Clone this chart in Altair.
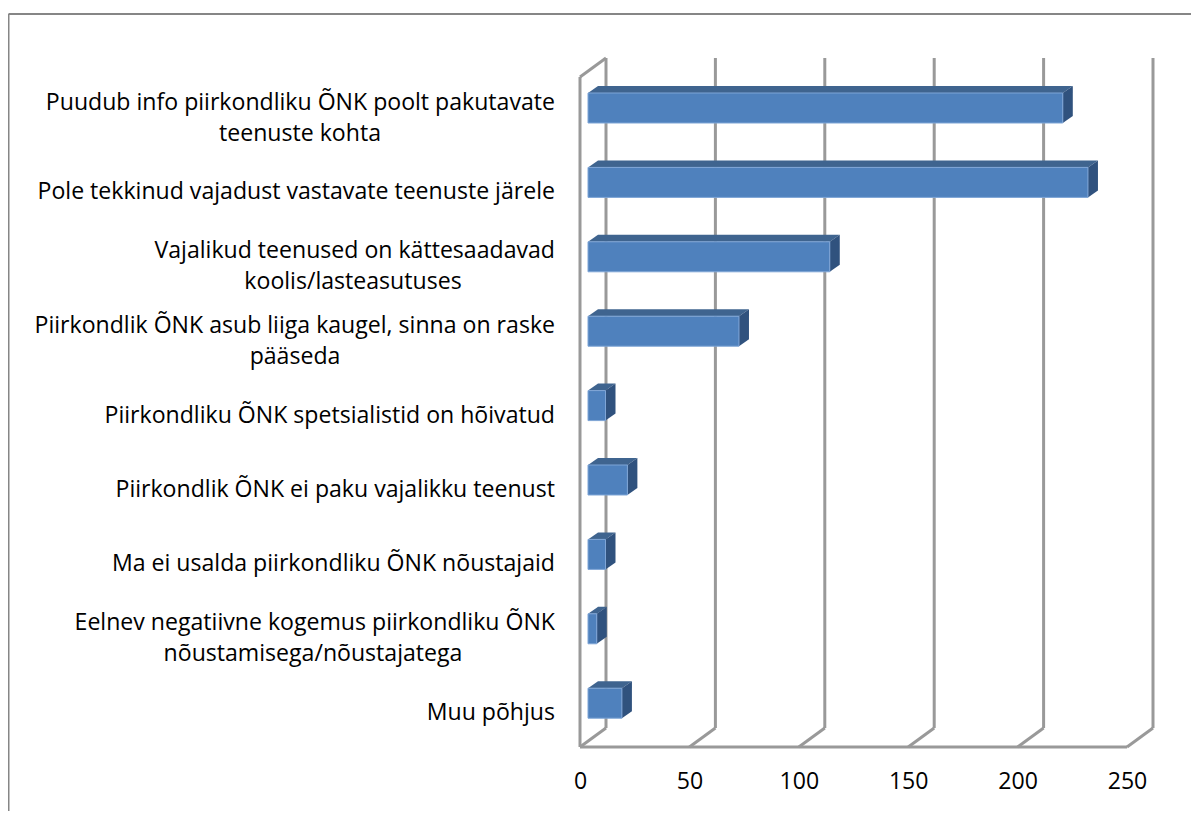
import altair as alt
import pandas as pd

first_lines = [
    "Puudub info piirkondliku ÕNK poolt pakutavate",
    "Pole tekkinud vajadust vastavate teenuste järele",
    "Vajalikud teenused on kättesaadavad",
    "Piirkondlik ÕNK asub liiga kaugel, sinna on raske",
    "Piirkondliku ÕNK spetsialistid on hõivatud",
    "Piirkondlik ÕNK ei paku vajalikku teenust",
    "Ma ei usalda piirkondliku ÕNK nõustajaid",
    "Eelnev negatiivne kogemus piirkondliku ÕNK",
    "Muu põhjus",
]
second_lines = [
    "teenuste kohta", "", "koolis/lasteasutuses", "pääseda", "", "", "",
    "nõustamisega/nõustajatega", "",
]
values = [217, 228.5, 110.5, 69, 8, 18, 8, 4, 15.5]
ticks = [0, 50, 100, 150, 200, 250]

# layout
PX_PER_UNIT = 2.188
PX_PER_ROW = 74.4
X0, Y_ROW0 = 580, 108
PLOT_TOP, PLOT_BOTTOM, PLOT_W = 58, 747, 600
TOTAL_W, TOTAL_H = 1183, 803
FONT, FS = "Open Sans", 23.1
LABEL_RIGHT = 555
SECOND_CENTRE = [300, None, 353, 295, None, None, None, 313, None]


def vx(px):
    return (px - X0) / PX_PER_UNIT


def vy(py):
    return (py - Y_ROW0) / PX_PER_ROW


xs = alt.Scale(domain=[0, PLOT_W / PX_PER_UNIT], nice=False, zero=False)
ys = alt.Scale(domain=[vy(PLOT_TOP), vy(PLOT_BOTTOM)], nice=False, zero=False, reverse=True)
x_axis = alt.Axis(
    values=ticks, grid=False, domain=False, ticks=False, labelPadding=23,
    labelFont=FONT, labelFontSize=FS, labelColor="#000000", format="d", labelFlush=False,
)
X = lambda f="x": alt.X(f"{f}:Q", scale=xs, axis=x_axis, title=None)
Y = lambda f="y": alt.Y(f"{f}:Q", scale=ys, axis=None, title=None)

# bars
start = vx(588)
dx, dy = 10 / PX_PER_UNIT, 7 / PX_PER_ROW
half = 15 / PX_PER_ROW
front, top, side = [], [], []
for i, v in enumerate(values):
    a, b = start, start + v
    y0, y1 = i - half, i + half
    front.append(dict(x=a, x2=b, y=y0, y2=y1))
    # parallelogram of the top face, as the band between its two slanted edges
    for xp in sorted({a, a + dx, b, b + dx}):
        up = min(1, (xp - a) / dx)
        lo = max(0, (xp - b) / dx)
        top.append(dict(i=i, x=xp, y=y0 - dy * up, y2=y0 - dy * lo))
    side += [dict(i=i, x=b, y=y0, y2=y1), dict(i=i, x=b + dx, y=y0 - dy, y2=y1 - dy)]

# walls and floor
wx, wy = 26 / PX_PER_UNIT, 19 / PX_PER_ROW
floor, wall_top = vy(PLOT_BOTTOM), vy(PLOT_TOP)
floor_back = floor - wy
grid = []
for t in ticks:
    grid.append(dict(x=t + wx, x2=t + wx, y=wall_top, y2=floor_back))
    grid.append(dict(x=t, x2=t + wx, y=floor, y2=floor_back))
grid.append(dict(x=0, x2=0, y=floor, y2=wall_top + wy))
grid.append(dict(x=0, x2=wx, y=wall_top + wy, y2=wall_top))
grid.append(dict(x=0, x2=250, y=floor, y2=floor))

frame = [
    dict(x=vx(8.5), x2=1300, y=vy(14), y2=vy(14)),
    dict(x=vx(8.5), x2=vx(8.5), y=vy(14), y2=vy(900)),
]

# labels
LABEL_SHIFT = 10 / PX_PER_ROW
LINE_GAP = 15.5 / PX_PER_ROW
right = []
for i, (a, b) in enumerate(zip(first_lines, second_lines)):
    right.append(dict(x=vx(LABEL_RIGHT), y=i + LABEL_SHIFT - (LINE_GAP if b else 0), t=a))
centred = [
    dict(x=vx(c), y=i + LABEL_SHIFT + LINE_GAP, t=second_lines[i])
    for i, c in enumerate(SECOND_CENTRE) if c is not None
]

rule_enc = dict(x=X(), x2="x2:Q", y=Y(), y2="y2:Q")
grid_layer = alt.Chart(pd.DataFrame(grid)).mark_rule(color="#999999", strokeWidth=3).encode(**rule_enc)
frame_layer = alt.Chart(pd.DataFrame(frame)).mark_rule(color="#868686", strokeWidth=2).encode(**rule_enc)
top_layer = alt.Chart(pd.DataFrame(top)).mark_area(orient="vertical", color="#3F648F").encode(
    x=X(), y=Y(), y2="y2:Q", detail="i:N")
side_layer = alt.Chart(pd.DataFrame(side)).mark_area(orient="vertical", color="#30527E").encode(
    x=X(), y=Y(), y2="y2:Q", detail="i:N")
front_layer = alt.Chart(pd.DataFrame(front)).mark_rect(
    color="#4F81BD", stroke="#7FA5D6", strokeWidth=1).encode(x=X(), x2="x2:Q", y=Y(), y2="y2:Q")
txt_r = alt.Chart(pd.DataFrame(right)).mark_text(
    align="right", baseline="middle", font=FONT, fontSize=FS, color="#000000").encode(x=X(), y=Y(), text="t:N")
txt_c = alt.Chart(pd.DataFrame(centred)).mark_text(
    align="center", baseline="middle", font=FONT, fontSize=FS, color="#000000").encode(x=X(), y=Y(), text="t:N")

chart = (
    alt.layer(frame_layer, grid_layer, top_layer, side_layer, front_layer, txt_r, txt_c)
    .properties(
        width=PLOT_W,
        height=PLOT_BOTTOM - PLOT_TOP,
        padding={"left": X0 - 8, "top": PLOT_TOP - 8, "right": TOTAL_W - (X0 - 8) - PLOT_W,
                 "bottom": TOTAL_H - (PLOT_BOTTOM - 8)},
        autosize=alt.AutoSizeParams(type="none"),
        background="#ffffff",
    )
    .configure_view(stroke=None)
)
chart.save("out.html", embed_options={"renderer": "svg", "actions": False})
